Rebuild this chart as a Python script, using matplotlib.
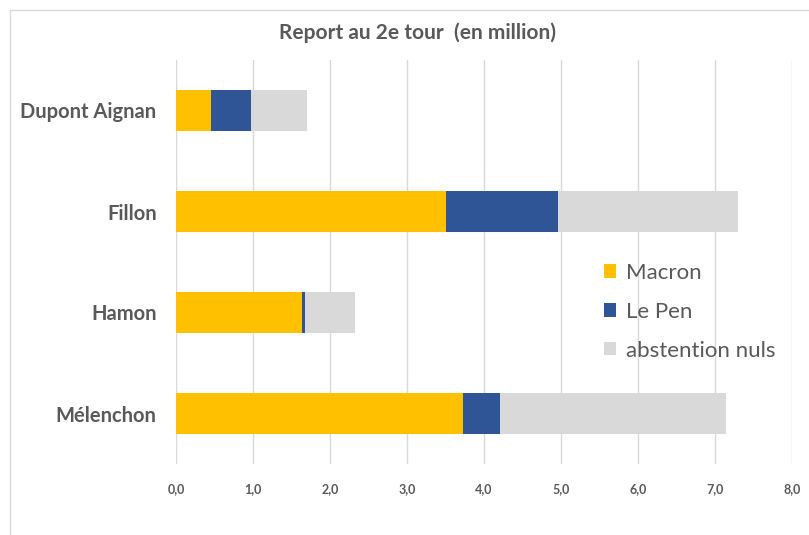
import matplotlib.pyplot as plt
import numpy as np
from matplotlib.patches import Rectangle

# données (millions)
candidats = ["Dupont Aignan", "Fillon", "Hamon", "Mélenchon"]
macron = [0.46, 3.51, 1.64, 3.73]
le_pen = [0.51, 1.45, 0.03, 0.48]
abstention = [0.73, 2.34, 0.65, 2.93]
xticks = [0, 1, 2, 3, 4, 5, 6, 7, 8]

plt.rcParams['font.family'] = ['Lato', 'DejaVu Sans']
gris = '#595959'

fig = plt.figure(figsize=(8.09, 5.35), dpi=100)
ax = fig.add_axes([176/809, 1-464/535, (792-176)/809, (464-60)/535])

# cadre du graphique
fig.patches.append(Rectangle((10/809, -0.1), 1.1, (1-10/535)+0.1, transform=fig.transFigure,
                             fill=False, edgecolor='#d9d9d9', linewidth=1))

y = np.arange(len(candidats))
h = 0.4
left2 = np.array(macron) + np.array(le_pen)
ax.barh(y, macron, height=h, color='#FFC000', label='Macron', zorder=3)
ax.barh(y, le_pen, left=macron, height=h, color='#2F5597', label='Le Pen', zorder=3)
ax.barh(y, abstention, left=left2, height=h, color='#D9D9D9', label='abstention nuls', zorder=3)

ax.set_ylim(len(candidats)-0.5, -0.5)
ax.set_xlim(0, 8)
ax.set_xticks(xticks)
ax.set_xticklabels([f"{v:.1f}".replace('.', ',') for v in xticks],
                   fontsize=9, fontweight='bold', color=gris)
ax.set_yticks(y)
ax.set_yticklabels(candidats, fontsize=14.5, fontweight='bold', color=gris)
ax.tick_params(axis='both', length=0)
ax.tick_params(axis='x', pad=14)
ax.tick_params(axis='y', pad=14)
ax.grid(axis='x', color='#d9d9d9', linewidth=1, zorder=0)
for s in ax.spines.values():
    s.set_visible(False)

fig.text(417/809, 1-33/535, "Report au 2e tour  (en million)", ha='center', va='center',
         fontsize=15, fontweight='bold', color=gris)

ax.legend(loc='upper left', bbox_to_anchor=(0.68, 0.52), frameon=False, fontsize=16,
          labelcolor=gris, handlelength=0.55, handleheight=0.55, handletextpad=0.45,
          labelspacing=0.85, borderaxespad=0)

plt.savefig('out.png', dpi=100)
